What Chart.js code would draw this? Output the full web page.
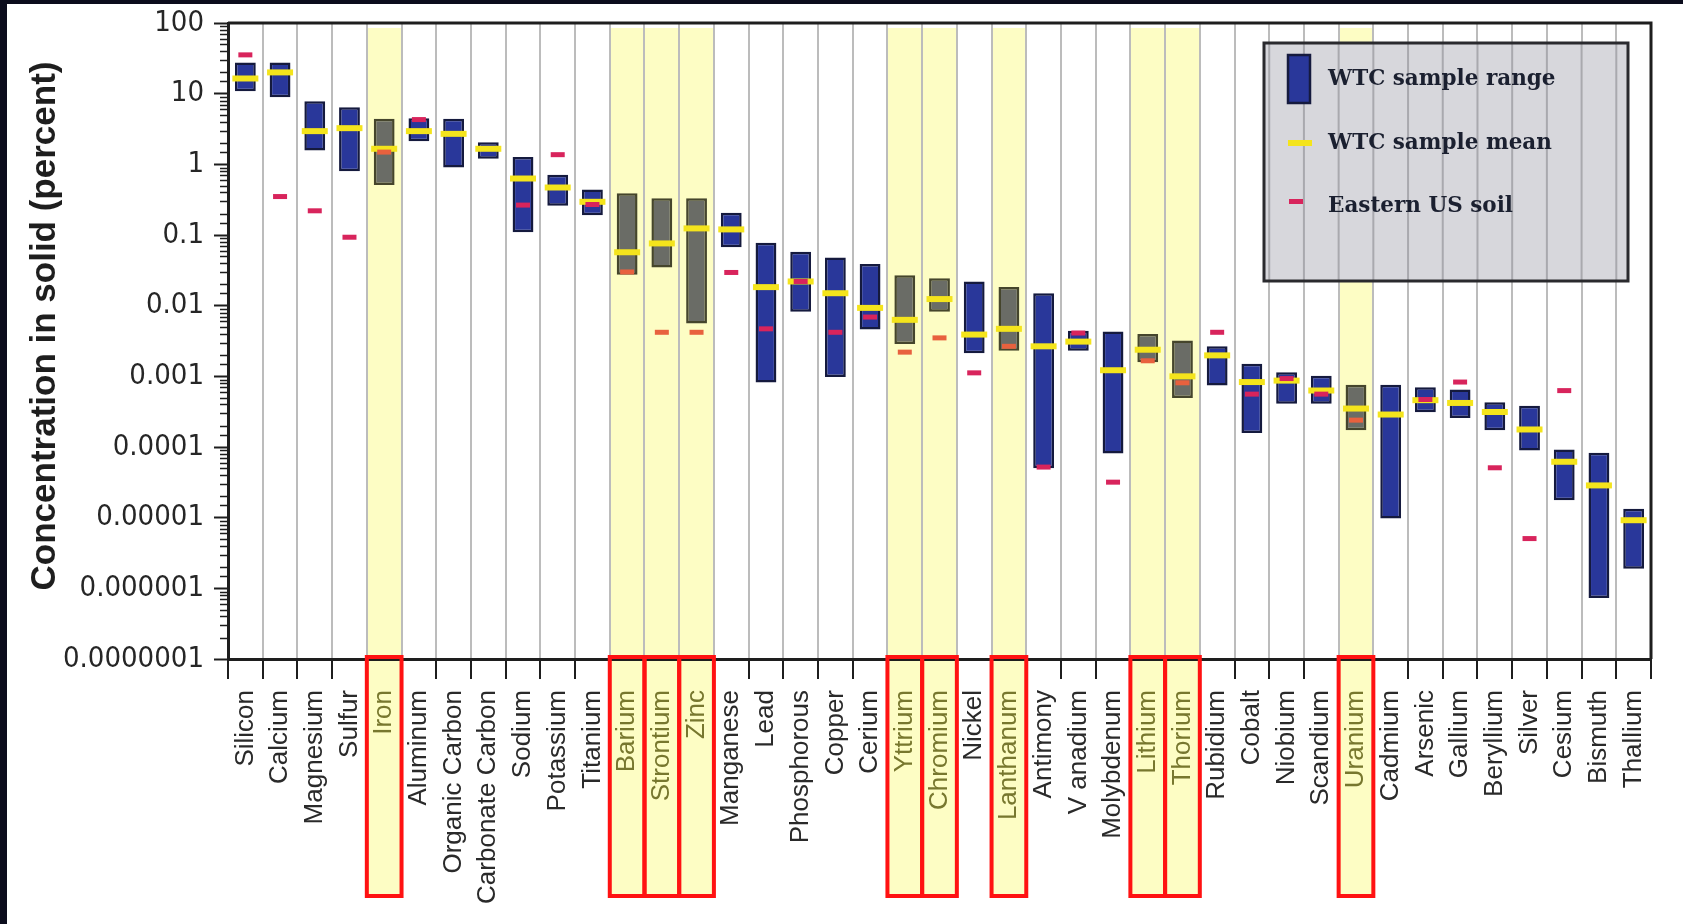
<!DOCTYPE html>
<html>
<head>
<meta charset="utf-8">
<title>WTC dust concentrations</title>
<script src="https://cdn.jsdelivr.net/npm/chart.js@4.4.1/dist/chart.umd.min.js"></script>
<style>
  html, body { margin: 0; padding: 0; background: #0b0c1c; }
  #wrap {
    position: absolute; left: 7px; top: 4px;
    width: 1676px; height: 920px; background: #ffffff;
  }
  canvas { display: block; }
</style>
</head>
<body>
<div id="wrap"><canvas id="concChart" width="1676" height="920"></canvas></div>
<script>
// elements, in the order they are plotted
const categories = ['Silicon', 'Calcium', 'Magnesium', 'Sulfur', 'Iron', 'Aluminum', 'Organic Carbon',
  'Carbonate Carbon', 'Sodium', 'Potassium', 'Titanium', 'Barium', 'Strontium', 'Zinc', 'Manganese',
  'Lead', 'Phosphorous', 'Copper', 'Cerium', 'Yttrium', 'Chromium', 'Nickel', 'Lanthanum', 'Antimony',
  'V anadium', 'Molybdenum', 'Lithium', 'Thorium', 'Rubidium', 'Cobalt', 'Niobium', 'Scandium',
  'Uranium', 'Cadmium', 'Arsenic', 'Gallium', 'Beryllium', 'Silver', 'Cesium', 'Bismuth', 'Thallium'];

// WTC sample range (percent): lowest and highest value per element
const rangeLow = [10.8, 8.9, 1.57, 0.8, 0.51, 2.13, 0.9, 1.2, 0.109, 0.26, 0.19, 0.0274, 0.0347, 0.0056,
  0.067, 0.00082, 0.0082, 0.00098, 0.0046, 0.00286, 0.0082, 0.00213, 0.0023, 0.00005, 0.0023, 0.000081,
  0.00158, 0.000494, 0.00074, 0.000158, 0.00041, 0.00041, 0.000173, 0.0000097, 0.00031, 0.000258,
  0.000173, 0.0000893, 0.0000176, 0.00000073, 0.0000019];
const rangeHigh = [27.6, 27.6, 7.8, 6.4, 4.4, 4.5, 4.4, 2.06, 1.27, 0.71, 0.44, 0.39, 0.33, 0.33, 0.206,
  0.078, 0.058, 0.048, 0.039, 0.027, 0.0245, 0.022, 0.0183, 0.015, 0.0044, 0.0043, 0.00396, 0.00322,
  0.00266, 0.00151, 0.00114, 0.00102, 0.00076, 0.00076, 0.0007, 0.00065, 0.00043, 0.000385, 0.0000922,
  0.0000828, 0.0000134];

// WTC sample mean (percent)
const sampleMean = [16.4, 20, 2.95, 3.25, 1.66, 2.95, 2.7, 1.66, 0.63, 0.47, 0.295, 0.057, 0.076, 0.124,
  0.12, 0.0183, 0.022, 0.015, 0.0093, 0.0063, 0.0124, 0.0039, 0.0047, 0.00266, 0.0031, 0.00122, 0.00238,
  0.001, 0.00198, 0.00083, 0.00087, 0.00063, 0.00035, 0.000288, 0.00046, 0.00042, 0.000313, 0.000177,
  0.0000618, 0.0000286, 0.0000092];

// Eastern US soil reference level (percent), null where not reported
const easternSoil = [35.4, 0.35, 0.22, 0.093, 1.49, 4.3, null, null, 0.265, 1.37, 0.27, 0.03, 0.0042,
  0.0042, 0.0295, 0.0047, 0.022, 0.0042, 0.0069, 0.0022, 0.0035, 0.00112, 0.00266, 0.000052, 0.0041,
  0.0000318, 0.00166, 0.00081, 0.0042, 0.00056, 0.00093, 0.00056, 0.00024, null, 0.00047, 0.00083,
  0.0000508, 0.00000506, 0.000628, null, null];

// elements marked with a yellow column
const highlighted = ['Iron', 'Barium', 'Strontium', 'Zinc', 'Yttrium', 'Chromium', 'Lanthanum',
  'Lithium', 'Thorium', 'Uranium'];

// decade tick labels of the log axis, from 10^-7 up to 10^2
const yTickLabels = ['0.0000001', '0.000001', '0.00001', '0.0001', '0.001', '0.01', '0.1', '1', '10', '100'];

const legendLabels = ['WTC sample range', 'WTC sample mean', 'Eastern US soil'];
const yTitle = 'Concentration in solid (percent)';

const colors = {
  bar: '#29379a',
  barEdge: '#151a3e',
  barHi: '#6a6c66',
  barEdgeHi: '#45452c',
  mean: '#f4e41c',
  soil: '#d8245c',
  soilHi: '#e8613e',
  column: '#fdfdc4',
  grid: '#bcbcbc',
  axis: '#1e1e1e',
  box: '#ff1212'
};

const isHi = i => highlighted.includes(categories[i]);
const decadeOf = v => {
  const l = Math.log10(v);
  return Math.abs(l - Math.round(l)) < 1e-6 ? Math.round(l) : null;
};

// boundaries of a category column on the x scale
function columnEdges(xs, i) {
  const step = (xs.right - xs.left) / categories.length;
  const c = xs.getPixelForValue(i);
  return [c - step / 2, c + step / 2];
}

const decorations = {
  id: 'decorations',
  // pale yellow columns behind everything, down through the labels
  beforeDraw(chart) {
    const ctx = chart.ctx, xs = chart.scales.x;
    ctx.save();
    ctx.fillStyle = colors.column;
    categories.forEach((c, i) => {
      if (!isHi(i)) return;
      const [l, r] = columnEdges(xs, i);
      ctx.fillRect(l, chart.chartArea.top + 5, r - l, 892 - chart.chartArea.top - 5);
    });
    ctx.restore();
  },
  afterDatasetsDraw(chart) {
    const ctx = chart.ctx, xs = chart.scales.x, ys = chart.scales.y;
    const area = chart.chartArea;
    ctx.save();

    // y axis title, sitting a little above the middle of the axis
    ctx.save();
    ctx.translate(38, 322);
    ctx.rotate(-Math.PI / 2);
    ctx.fillStyle = '#1e1e1e';
    ctx.font = 'bold 35px "Liberation Sans", Arial, sans-serif';
    ctx.textAlign = 'center';
    ctx.textBaseline = 'middle';
    ctx.fillText(yTitle, 0, 0);
    ctx.restore();

    // short minor ticks on the log axis
    ctx.strokeStyle = colors.axis;
    ctx.lineWidth = 1.5;
    ys.ticks.forEach(t => {
      if (decadeOf(t.value) !== null) return;
      const y = Math.round(ys.getPixelForValue(t.value)) + 0.5;
      ctx.beginPath();
      ctx.moveTo(area.left - 8, y);
      ctx.lineTo(area.left, y);
      ctx.stroke();
    });

    // frame on top and right
    ctx.strokeStyle = colors.axis;
    ctx.lineWidth = 3;
    ctx.beginPath();
    ctx.moveTo(area.left, area.top);
    ctx.lineTo(area.right, area.top);
    ctx.lineTo(area.right, area.bottom);
    ctx.stroke();

    // legend box, with the column grid running across it
    const bx = 1257, by = 39, bw = 364, bh = 238;
    ctx.fillStyle = '#d7d7dc';
    ctx.fillRect(bx, by, bw, bh);
    ctx.strokeStyle = '#a9a9ae';
    ctx.lineWidth = 2;
    categories.forEach((c, i) => {
      const [l] = columnEdges(xs, i);
      if (l > bx && l < bx + bw) {
        ctx.beginPath();
        ctx.moveTo(l, by);
        ctx.lineTo(l, by + bh);
        ctx.stroke();
      }
    });
    ctx.strokeStyle = '#2a2a2e';
    ctx.lineWidth = 3;
    ctx.strokeRect(bx, by, bw, bh);

    ctx.fillStyle = colors.bar;
    ctx.fillRect(1281, 51, 22, 48);
    ctx.strokeStyle = colors.barEdge;
    ctx.lineWidth = 2.5;
    ctx.strokeRect(1281, 51, 22, 48);
    ctx.fillStyle = colors.mean;
    ctx.fillRect(1281, 136, 24, 6);
    ctx.fillStyle = colors.soil;
    ctx.fillRect(1282, 195, 14, 5);

    ctx.fillStyle = '#1b2030';
    ctx.font = 'bold 21.5px "DejaVu Serif", serif';
    ctx.textBaseline = 'middle';
    ctx.textAlign = 'left';
    ctx.fillText(legendLabels[0], 1321, 75);
    ctx.fillText(legendLabels[1], 1321, 139);
    ctx.fillText(legendLabels[2], 1321, 202);

    // red outlines around the highlighted labels
    ctx.strokeStyle = colors.box;
    ctx.lineWidth = 4;
    categories.forEach((c, i) => {
      if (!isHi(i)) return;
      const [l, r] = columnEdges(xs, i);
      ctx.strokeRect(l, area.bottom - 2, r - l, 892 - area.bottom + 2);
    });
    ctx.restore();
  }
};

new Chart(document.getElementById('concChart').getContext('2d'), {
  type: 'bar',
  data: {
    labels: categories,
    datasets: [
      {
        label: legendLabels[0],
        data: categories.map((c, i) => [rangeLow[i], rangeHigh[i]]),
        backgroundColor: ctx => isHi(ctx.dataIndex) ? colors.barHi : colors.bar,
        borderColor: ctx => isHi(ctx.dataIndex) ? colors.barEdgeHi : colors.barEdge,
        borderWidth: 2.5,
        borderSkipped: false,
        barPercentage: 0.6,
        categoryPercentage: 1,
        order: 3
      },
      {
        type: 'line',
        label: legendLabels[1],
        data: sampleMean,
        showLine: false,
        pointStyle: 'line',
        pointRadius: 13,
        pointBorderWidth: 6,
        pointBorderColor: colors.mean,
        pointBackgroundColor: colors.mean,
        order: 2
      },
      {
        type: 'line',
        label: legendLabels[2],
        data: easternSoil,
        showLine: false,
        pointStyle: 'line',
        pointRadius: 7,
        pointBorderWidth: 5,
        pointBorderColor: ctx => isHi(ctx.dataIndex) ? colors.soilHi : colors.soil,
        order: 1
      }
    ]
  },
  options: {
    responsive: false,
    animation: false,
    events: [],
    layout: { padding: { top: 18, right: 32, left: 0, bottom: 0 } },
    plugins: {
      legend: { display: false },
      tooltip: { enabled: false }
    },
    scales: {
      x: {
        offset: true,
        grid: {
          offset: true,
          color: colors.grid,
          lineWidth: 2,
          tickColor: colors.axis,
          tickLength: 20
        },
        border: { color: colors.axis, width: 3 },
        ticks: {
          autoSkip: false,
          minRotation: 90,
          maxRotation: 90,
          padding: 11,
          color: ctx => isHi(ctx.index) ? '#77772e' : '#2a2a2a',
          font: { family: '"Liberation Sans", Arial, sans-serif', size: 26 }
        },
        afterFit: s => { s.height = 265; }
      },
      y: {
        type: 'logarithmic',
        min: 1e-7,
        max: 100,
        grid: {
          drawOnChartArea: false,
          tickLength: 14,
          tickWidth: 2,
          tickColor: ctx => (ctx.tick && decadeOf(ctx.tick.value) !== null) ? colors.axis : 'rgba(0,0,0,0)'
        },
        border: { color: colors.axis, width: 3 },
        ticks: {
          autoSkip: false,
          padding: 10,
          color: '#262626',
          font: { family: '"Liberation Sans Narrow", "DejaVu Sans Condensed", sans-serif', size: 29, lineHeight: 0.5 },
          callback: v => {
            const d = decadeOf(v);
            return d === null ? '' : yTickLabels[d + 7];
          }
        },
        afterFit: s => { s.width = 221; }
      }
    }
  },
  plugins: [decorations]
});
</script>
</body>
</html>
